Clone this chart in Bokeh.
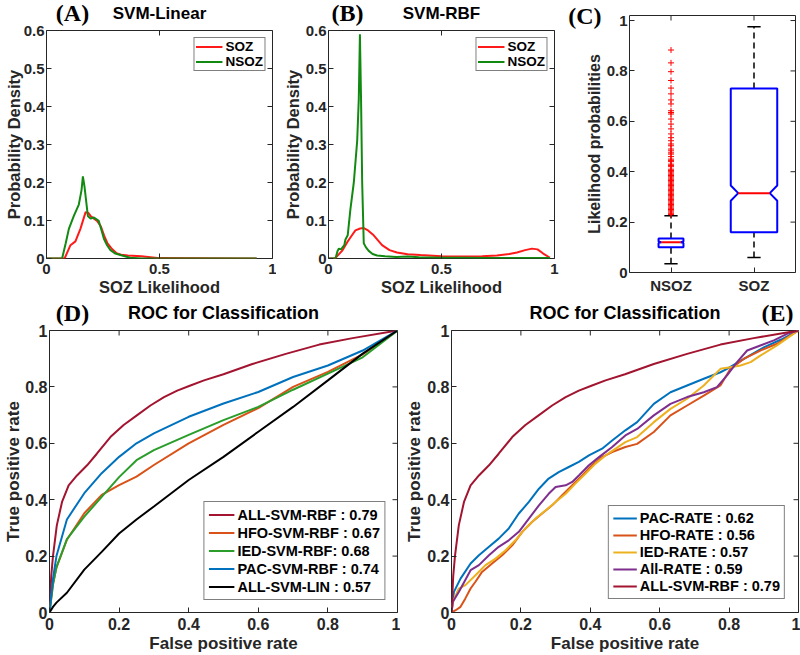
import math
from bokeh.plotting import figure
from bokeh.layouts import column, row
from bokeh.models import (Range1d, FixedTicker, Legend, LegendItem, LinearAxis,
                          CustomJSTickFormatter)
from bokeh.embed import file_html
from bokeh.resources import INLINE

# ---------------- data ----------------
# (A) SVM-Linear : probability density of SOZ likelihood
a_soz_x = [0, 0.08, 0.106, 0.128, 0.15, 0.173, 0.185, 0.195, 0.21, 0.224, 0.24, 0.255,
           0.27, 0.29, 0.31, 0.33, 0.36, 0.42, 0.5, 0.93]
a_soz_y = [0, 0, 0.035, 0.045, 0.078, 0.122, 0.12, 0.112, 0.105, 0.099, 0.085, 0.06,
           0.04, 0.025, 0.014, 0.01, 0.008, 0.006, 0.001, 0]
a_nsoz_x = [0, 0.069, 0.085, 0.099, 0.121, 0.143, 0.155, 0.161, 0.168, 0.183, 0.195, 0.21,
            0.231, 0.243, 0.254, 0.268, 0.283, 0.305, 0.327, 0.37, 0.42, 0.93]
a_nsoz_y = [0, 0, 0.04, 0.078, 0.112, 0.142, 0.18, 0.216, 0.19, 0.112, 0.105, 0.108,
            0.099, 0.075, 0.052, 0.035, 0.022, 0.013, 0.009, 0.002, 0, 0]

# (B) SVM-RBF
b_soz_x = [0, 0.028, 0.06, 0.083, 0.1, 0.119, 0.14, 0.156, 0.175, 0.2, 0.22, 0.237, 0.27,
           0.303, 0.35, 0.407, 0.5, 0.584, 0.68, 0.745, 0.8, 0.834, 0.87, 0.9, 0.925, 0.95, 0.98]
b_soz_y = [0, 0, 0.02, 0.043, 0.058, 0.074, 0.079, 0.08, 0.074, 0.061, 0.047, 0.035, 0.022,
           0.016, 0.011, 0.009, 0.006, 0.005, 0.006, 0.008, 0.012, 0.016, 0.022, 0.026, 0.024,
           0.013, 0.002]
b_nsoz_x = [0, 0.031, 0.04, 0.046, 0.055, 0.07, 0.075, 0.085, 0.097, 0.112, 0.127, 0.134,
            0.139, 0.144, 0.149, 0.156, 0.165, 0.178, 0.195, 0.215, 0.25, 0.3, 0.35, 0.4,
            0.5, 0.6, 0.7, 0.8, 0.9, 0.98]
b_nsoz_y = [0, 0, 0.02, 0.026, 0.024, 0.035, 0.05, 0.061, 0.13, 0.2, 0.31, 0.42, 0.59, 0.42,
            0.2, 0.04, 0.03, 0.02, 0.012, 0.008, 0.006, 0.004, 0.005, 0.003, 0.002, 0.002,
            0.001, 0.001, 0.001, 0.001]

# (C) box plot of likelihood probabilities
box_cats = ["NSOZ", "SOZ"]
box_pos = [1, 2]
box_q1 = [0.10, 0.16]
box_med = [0.12, 0.315]
box_q3 = [0.135, 0.73]
box_notch_lo = [0.117, 0.285]
box_notch_hi = [0.123, 0.345]
box_wlo = [0.035, 0.06]
box_whi = [0.225, 0.975]
nsoz_outliers = [0.23, 0.235, 0.24, 0.245, 0.25, 0.255, 0.26, 0.265, 0.27, 0.275, 0.28,
                 0.285, 0.29, 0.295, 0.30, 0.305, 0.31, 0.315, 0.32, 0.325, 0.33, 0.335,
                 0.34, 0.345, 0.35, 0.355, 0.36, 0.365, 0.37, 0.375, 0.38, 0.385, 0.39,
                 0.395, 0.40, 0.405, 0.41, 0.42, 0.425, 0.43, 0.44, 0.445, 0.45, 0.46,
                 0.47, 0.475, 0.483, 0.49, 0.503, 0.51, 0.523, 0.535, 0.55, 0.57, 0.589,
                 0.609, 0.629, 0.635, 0.642, 0.669, 0.685, 0.709, 0.732, 0.762, 0.797,
                 0.832, 0.883]

# (D) ROC curves of SVM classifiers
d_fpr = [0, 0.01, 0.02, 0.05, 0.1, 0.15, 0.2, 0.25, 0.3, 0.4, 0.5, 0.6, 0.7, 0.8, 0.9, 1.0]
d_hfo_rbf = [0, 0.1, 0.16, 0.258, 0.352, 0.417, 0.452, 0.482, 0.523, 0.6, 0.665, 0.725,
             0.8, 0.853, 0.915, 1.0]
d_ied_rbf = [0, 0.1, 0.16, 0.26, 0.34, 0.41, 0.48, 0.54, 0.576, 0.63, 0.682, 0.729, 0.79,
             0.847, 0.905, 1.0]
d_pac_rbf = [0, 0.12, 0.2, 0.33, 0.423, 0.494, 0.552, 0.6, 0.635, 0.694, 0.741, 0.782,
             0.835, 0.876, 0.929, 1.0]
d_all_lin = [0, 0.02, 0.035, 0.07, 0.152, 0.215, 0.28, 0.33, 0.376, 0.47, 0.552, 0.641,
             0.729, 0.823, 0.918, 1.0]
# ALL-SVM-RBF (same classifier in D and E)
rbf_fpr = [0, 0.005, 0.01, 0.021, 0.036, 0.055, 0.079, 0.108, 0.136, 0.175, 0.213, 0.252,
           0.29, 0.329, 0.367, 0.405, 0.444, 0.5, 0.583, 0.679, 0.775, 0.871, 1.0]
rbf_tpr = [0, 0.13, 0.2, 0.309, 0.392, 0.451, 0.486, 0.522, 0.563, 0.622, 0.665, 0.7,
           0.734, 0.764, 0.787, 0.805, 0.823, 0.845, 0.881, 0.917, 0.95, 0.973, 1.0]
d_labels = ["ALL-SVM-RBF : 0.79", "HFO-SVM-RBF : 0.67", "IED-SVM-RBF: 0.68",
            "PAC-SVM-RBF : 0.74", "ALL-SVM-LIN : 0.57"]

# (E) ROC curves of rate features
e_pac_x = [0, 0.007, 0.026, 0.055, 0.079, 0.108, 0.136, 0.165, 0.194, 0.223, 0.252, 0.28,
           0.309, 0.338, 0.367, 0.396, 0.434, 0.463, 0.501, 0.535, 0.583, 0.631, 0.679,
           0.727, 0.775, 0.794, 0.85, 0.9, 0.95, 1.0]
e_pac_y = [0, 0.073, 0.12, 0.174, 0.203, 0.233, 0.262, 0.298, 0.351, 0.392, 0.439, 0.475,
           0.498, 0.516, 0.534, 0.557, 0.581, 0.61, 0.646, 0.675, 0.74, 0.781, 0.805,
           0.829, 0.852, 0.864, 0.905, 0.94, 0.968, 1.0]
e_hfo_x = [0, 0.012, 0.026, 0.04, 0.055, 0.069, 0.088, 0.117, 0.146, 0.175, 0.204, 0.232,
           0.261, 0.29, 0.319, 0.348, 0.377, 0.405, 0.434, 0.463, 0.501, 0.535, 0.583,
           0.631, 0.679, 0.727, 0.775, 0.804, 0.842, 0.89, 0.938, 1.0]
e_hfo_y = [0, 0.008, 0.02, 0.05, 0.085, 0.109, 0.144, 0.174, 0.203, 0.238, 0.286, 0.321,
           0.351, 0.38, 0.416, 0.451, 0.486, 0.522, 0.551, 0.569, 0.587, 0.598, 0.64,
           0.699, 0.734, 0.769, 0.805, 0.864, 0.899, 0.929, 0.953, 1.0]
e_ied_x = [0, 0.004, 0.021, 0.04, 0.069, 0.098, 0.127, 0.156, 0.184, 0.213, 0.242, 0.271,
           0.3, 0.329, 0.357, 0.386, 0.415, 0.444, 0.473, 0.501, 0.535, 0.583, 0.631,
           0.679, 0.727, 0.775, 0.804, 0.833, 0.862, 0.89, 0.938, 1.0]
e_ied_y = [0, 0.038, 0.085, 0.097, 0.132, 0.168, 0.191, 0.221, 0.256, 0.298, 0.333, 0.362,
           0.392, 0.421, 0.457, 0.492, 0.528, 0.557, 0.581, 0.604, 0.622, 0.675, 0.722,
           0.758, 0.805, 0.864, 0.87, 0.876, 0.888, 0.911, 0.947, 1.0]
e_all_x = [0, 0.004, 0.021, 0.055, 0.079, 0.108, 0.136, 0.165, 0.194, 0.223, 0.252, 0.28,
           0.3, 0.329, 0.348, 0.367, 0.396, 0.425, 0.463, 0.501, 0.535, 0.583, 0.631,
           0.679, 0.727, 0.765, 0.794, 0.823, 0.852, 0.89, 0.929, 0.967, 1.0]
e_all_y = [0, 0.038, 0.073, 0.15, 0.168, 0.203, 0.233, 0.256, 0.286, 0.333, 0.38, 0.421,
           0.445, 0.451, 0.463, 0.486, 0.522, 0.551, 0.587, 0.628, 0.651, 0.699, 0.74,
           0.764, 0.781, 0.799, 0.841, 0.888, 0.929, 0.947, 0.965, 0.988, 1.0]
e_labels = ["PAC-RATE : 0.62", "HFO-RATE : 0.56", "IED-RATE : 0.57", "All-RATE : 0.59",
            "ALL-SVM-RBF : 0.79"]

density_ticks_x = [0, 0.5, 1]
density_ticks_y = [0, 0.1, 0.2, 0.3, 0.4, 0.5, 0.6]
box_ticks_y = [0, 0.2, 0.4, 0.6, 0.8, 1]
roc_ticks = [0, 0.2, 0.4, 0.6, 0.8, 1]

# ---------------- style ----------------
AXC = "#262626"
SANS = "Liberation Sans"
SERIF = "Liberation Serif"
RED = "#FF1A1A"
GREEN_AB = "#128A12"
C_CRIMSON = "#A2142F"
C_ORANGE = "#D95319"
C_GREEN = "#2A9D2A"
C_BLUE = "#0072BD"
C_YELLOW = "#EDB120"
C_PURPLE = "#7E2F8E"
LETTER_FS = 24

FMT = "return String(Math.round(tick*100)/100);"


def make_fig(w, h, xr, yr, left, right, top, bottom):
    p = figure(width=w, height=h, x_range=Range1d(*xr), y_range=Range1d(*yr),
               title=None, output_backend="svg", toolbar_location=None,
               min_border_left=left, min_border_right=right,
               min_border_top=top, min_border_bottom=bottom)
    p.grid.visible = False
    p.outline_line_color = AXC
    p.outline_line_width = 1
    p.outline_line_alpha = 1
    p.background_fill_color = "white"
    p.border_fill_color = "white"
    p._fw = w - left - right
    p._xr = xr
    p._yr = yr
    return p


def style_axes(p, xticks, yticks, tick_fs, label_fs, xlabel, ylabel,
               x_std=0, x_tick_std=2, y_std=2, y_tick_std=3, x_over=None):
    xa, ya = p.xaxis[0], p.yaxis[0]
    xa.ticker = FixedTicker(ticks=xticks)
    ya.ticker = FixedTicker(ticks=yticks)
    if x_over is None:
        xa.formatter = CustomJSTickFormatter(code=FMT)
    else:
        xa.major_label_overrides = x_over
    ya.formatter = CustomJSTickFormatter(code=FMT)
    for ax in (xa, ya):
        ax.major_tick_in = 5
        ax.major_tick_out = 0
        ax.minor_tick_line_color = None
        ax.axis_line_color = None
        ax.major_tick_line_color = AXC
        ax.major_label_text_font = SANS
        ax.major_label_text_font_style = "bold"
        ax.major_label_text_font_size = f"{tick_fs}px"
        ax.major_label_text_color = AXC
        ax.axis_label_text_font = SANS
        ax.axis_label_text_font_style = "bold"
        ax.axis_label_text_font_size = f"{label_fs}px"
        ax.axis_label_text_color = AXC
    xa.major_label_standoff = x_tick_std
    ya.major_label_standoff = y_tick_std
    if xlabel:
        xa.axis_label = xlabel
        xa.axis_label_standoff = x_std
    if ylabel:
        ya.axis_label = ylabel
        ya.axis_label_standoff = y_std
    # mirrored tick marks on the right and top edges of the box (clipped to the frame)
    p.scatter([p._xr[1]] * len(yticks), yticks, marker="dash", size=10,
              line_color=AXC, line_width=1)
    p.scatter(xticks, [p._yr[1]] * len(xticks), marker="dash", size=10, angle=math.pi / 2,
              line_color=AXC, line_width=1)


def bare_axis(**kw):
    return LinearAxis(major_tick_in=0, major_tick_out=0, major_tick_line_color=None,
                      minor_tick_line_color=None, axis_line_color=None,
                      major_label_text_font=SERIF, major_label_text_font_style="bold",
                      major_label_text_font_size=f"{LETTER_FS}px",
                      major_label_text_color="black", **kw)


def add_head(p, letter, dx, title=None, title_fs=17, s1=5, als=-26):
    """Panel letter (serif) and panel title (sans) on one line above the box."""
    x = p._xr[0] + dx * (p._xr[1] - p._xr[0]) / p._fw
    ax = bare_axis(ticker=FixedTicker(ticks=[x]),
                   formatter=CustomJSTickFormatter(args=dict(t=letter), code="return t;"),
                   major_label_standoff=s1)
    if title:
        ax.axis_label = title
        ax.axis_label_standoff = als
        ax.axis_label_text_font = SANS
        ax.axis_label_text_font_style = "bold"
        ax.axis_label_text_font_size = f"{title_fs}px"
        ax.axis_label_text_color = "black"
    p.add_layout(ax, "above")


def add_legend(p, items, loc, fs, gw, rowh, pad, margin, spacing=0):
    leg = Legend(items=[LegendItem(label=t, renderers=[r]) for t, r in items],
                 location=loc, border_line_color="black", border_line_width=1,
                 background_fill_color="white", background_fill_alpha=1,
                 padding=pad, spacing=spacing, margin=margin, glyph_width=gw,
                 glyph_height=rowh, label_height=rowh, label_standoff=3,
                 label_text_font=SANS, label_text_font_style="bold",
                 label_text_font_size=f"{fs}px", label_text_color="black")
    p.add_layout(leg)


# ---------------- (A) ----------------
pA = make_fig(276, 298, (0, 1), (0, 0.6), 46, 4, 29, 38)
style_axes(pA, density_ticks_x, density_ticks_y, 15, 16.5, "SOZ Likelihood",
           "Probability Density", x_std=1, x_tick_std=5, y_std=-2, y_tick_std=2)
rA1 = pA.line(a_soz_x, a_soz_y, line_color=RED, line_width=2)
rA2 = pA.line(a_nsoz_x, a_nsoz_y, line_color=GREEN_AB, line_width=2)
add_legend(pA, [("SOZ", rA1), ("NSOZ", rA2)], "top_right", 13.5, 27, 13, 1, 7)
add_head(pA, "(A)", 26, "SVM-Linear", 17)

# ---------------- (B) ----------------
pB = make_fig(284, 298, (0, 1), (0, 0.6), 52, 6, 29, 38)
style_axes(pB, density_ticks_x, density_ticks_y, 15, 16.5, "SOZ Likelihood",
           "Probability Density", x_std=1, x_tick_std=5, y_std=1, y_tick_std=2)
rB1 = pB.line(b_soz_x, b_soz_y, line_color=RED, line_width=2)
rB2 = pB.line(b_nsoz_x, b_nsoz_y, line_color=GREEN_AB, line_width=2)
add_legend(pB, [("SOZ", rB1), ("NSOZ", rB2)], "top_right", 13.5, 27, 13, 1, 7)
add_head(pB, "(B)", 19, "SVM-RBF", 17)

# ---------------- (C) ----------------
pC = make_fig(240, 298, (0.5, 2.5), (0, 1.02), 69, 5, 15, 26)
style_axes(pC, box_pos, box_ticks_y, 15, 16, None, "Likelihood probabilities",
           x_tick_std=4, y_std=1, y_tick_std=2,
           x_over={p: c for p, c in zip(box_pos, box_cats)})
box_hw = [0.15, 0.28]     # half widths of the boxes
notch_hw = [0.12, 0.19]   # half widths at the notch
cap_hw = 0.08
xs, ys = [], []
for x, q1, nlo, md, nhi, q3, hw, nw in zip(box_pos, box_q1, box_notch_lo, box_med,
                                          box_notch_hi, box_q3, box_hw, notch_hw):
    xs.append([x - hw, x + hw, x + hw, x + nw, x + hw, x + hw, x - hw, x - hw, x - nw,
               x - hw, x - hw])
    ys.append([q1, q1, nlo, md, nhi, q3, q3, nhi, md, nlo, q1])
pC.segment(x0=box_pos, y0=box_q3, x1=box_pos, y1=box_whi, line_color="black",
           line_width=1.5, line_dash="6 4")
pC.segment(x0=box_pos, y0=box_wlo, x1=box_pos, y1=box_q1, line_color="black",
           line_width=1.5, line_dash="6 4")
pC.segment(x0=[x - cap_hw for x in box_pos], y0=box_whi,
           x1=[x + cap_hw for x in box_pos], y1=box_whi, line_color="black", line_width=1.5)
pC.segment(x0=[x - cap_hw for x in box_pos], y0=box_wlo,
           x1=[x + cap_hw for x in box_pos], y1=box_wlo, line_color="black", line_width=1.5)
pC.patches(xs, ys, fill_color=None, line_color="#0000FF", line_width=2)
pC.segment(x0=[x - w for x, w in zip(box_pos, notch_hw)], y0=box_med,
           x1=[x + w for x, w in zip(box_pos, notch_hw)], y1=box_med,
           line_color="#FF0000", line_width=2)
pC.scatter([box_pos[0]] * len(nsoz_outliers), nsoz_outliers, marker="cross", size=6,
           line_color="#FF0000", line_width=1)
# panel letter (C): a label-only axis stacked left of the y axis, at the top of the box
axC = bare_axis(ticker=FixedTicker(ticks=[1.019]),
                formatter=CustomJSTickFormatter(args=dict(t="(C)"), code="return t;"),
                major_label_standoff=-19)
pC.add_layout(axC, "left")

# ---------------- (D) ----------------
pD = make_fig(400, 357, (0, 1), (0, 1), 49, 3, 32, 42)
style_axes(pD, roc_ticks, roc_ticks, 16, 17, "False positive rate",
           "True positive rate", x_std=1, x_tick_std=5, y_std=-1, y_tick_std=2)
d_series = [(rbf_fpr, rbf_tpr, C_CRIMSON), (d_fpr, d_hfo_rbf, C_ORANGE),
            (d_fpr, d_ied_rbf, C_GREEN), (d_fpr, d_pac_rbf, C_BLUE),
            (d_fpr, d_all_lin, "black")]
d_rend = [pD.line(x_, y_, line_color=c, line_width=2) for x_, y_, c in d_series]
add_legend(pD, list(zip(d_labels, d_rend)), "bottom_right", 14.5, 26, 17, 4, 12, spacing=1)
add_head(pD, "(D)", 23, "ROC for Classification", 18)

# ---------------- (E) ----------------
pE = make_fig(400, 357, (0, 1), (0, 1), 51, 2, 32, 42)
style_axes(pE, roc_ticks, roc_ticks, 16, 17, "False positive rate",
           "True positive rate", x_std=1, x_tick_std=5, y_std=0, y_tick_std=2)
e_series = [(e_pac_x, e_pac_y, C_BLUE), (e_hfo_x, e_hfo_y, C_ORANGE),
            (e_ied_x, e_ied_y, C_YELLOW), (e_all_x, e_all_y, C_PURPLE),
            (rbf_fpr, rbf_tpr, C_CRIMSON)]
e_rend = [pE.line(x_, y_, line_color=c, line_width=2) for x_, y_, c in e_series]
add_legend(pE, list(zip(e_labels, e_rend)), "bottom_right", 14.5, 24, 16, 4, 13, spacing=1)
add_head(pE, "(E)", 326, "ROC for Classification", 18)

# each figure in its own column so that Bokeh does not align their frames
layout = column(row(column(pA), column(pB), column(pC)),
                row(column(pD), column(pE)))
open("out.html", "w").write(file_html(layout, INLINE))
